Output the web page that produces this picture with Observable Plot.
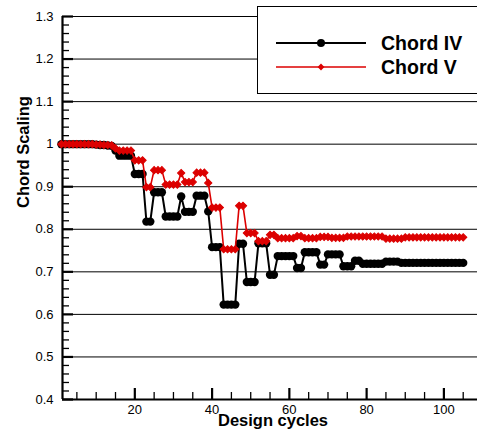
<!DOCTYPE html>
<html>
<head>
<meta charset="utf-8">
<script src="https://cdn.jsdelivr.net/npm/d3@7"></script>
<script src="https://cdn.jsdelivr.net/npm/@observablehq/plot@0.6"></script>
<style>
  html, body { margin: 0; padding: 0; background: white; }
  #chart { width: 477px; height: 439px; overflow: hidden; }
</style>
</head>
<body>
<div id="chart"></div>
<script>
const cycles = [
  1,2,3,4,5,6,7,8,9,10,11,12,13,14,15,16,17,18,19,20,
  21,22,23,24,25,26,27,28,29,30,31,32,33,34,35,36,37,38,39,40,
  41,42,43,44,45,46,47,48,49,50,51,52,53,54,55,56,57,58,59,60,
  61,62,63,64,65,66,67,68,69,70,71,72,73,74,75,76,77,78,79,80,
  81,82,83,84,85,86,87,88,89,90,91,92,93,94,95,96,97,98,99,100,
  101,102,103,104,105
];
const chordIV = [
  1.000,1.000,1.000,1.000,1.000,1.000,1.000,1.000,1.000,0.999,
  0.998,0.998,0.997,0.996,0.985,0.973,0.973,0.973,0.973,0.930,
  0.930,0.930,0.818,0.818,0.887,0.887,0.887,0.830,0.830,0.830,
  0.830,0.877,0.841,0.841,0.841,0.879,0.879,0.879,0.842,0.758,
  0.758,0.758,0.623,0.623,0.623,0.623,0.766,0.766,0.676,0.676,
  0.676,0.767,0.767,0.767,0.693,0.693,0.737,0.737,0.737,0.737,
  0.737,0.709,0.709,0.746,0.746,0.746,0.746,0.717,0.717,0.741,
  0.741,0.741,0.741,0.713,0.713,0.713,0.726,0.726,0.719,0.719,
  0.719,0.719,0.719,0.719,0.724,0.724,0.724,0.724,0.721,0.721,
  0.721,0.721,0.721,0.721,0.721,0.721,0.721,0.721,0.721,0.721,
  0.721,0.721,0.721,0.721,0.721
];
const chordV = [
  1.000,1.000,1.000,1.000,1.000,1.000,1.000,1.000,1.000,0.999,
  0.999,0.998,0.998,0.997,0.990,0.985,0.985,0.985,0.985,0.962,
  0.962,0.962,0.899,0.899,0.939,0.939,0.939,0.905,0.905,0.905,
  0.905,0.932,0.911,0.911,0.911,0.933,0.933,0.933,0.909,0.851,
  0.851,0.851,0.753,0.753,0.753,0.753,0.855,0.855,0.791,0.791,
  0.791,0.772,0.772,0.772,0.787,0.787,0.779,0.779,0.779,0.779,
  0.779,0.784,0.784,0.779,0.779,0.779,0.779,0.782,0.782,0.782,
  0.780,0.780,0.780,0.780,0.783,0.783,0.783,0.783,0.783,0.783,
  0.783,0.783,0.783,0.783,0.778,0.778,0.778,0.778,0.778,0.781,
  0.781,0.781,0.781,0.781,0.781,0.781,0.781,0.781,0.781,0.781,
  0.781,0.781,0.781,0.781,0.781
];
const seriesNames = ["Chord IV", "Chord V"];
const xTicksMajor = [20, 40, 60, 80, 100];
const xTickLabels = ["20", "40", "60", "80", "100"];
const xTicksMinor = [5, 10, 15, 25, 30, 35, 45, 50, 55, 65, 70, 75, 85, 90, 95, 105];
const yTicksMajor = [0.4, 0.5, 0.6, 0.7, 0.8, 0.9, 1.0, 1.1, 1.2, 1.3];
const yTickLabels = ["0.4", "0.5", "0.6", "0.7", "0.8", "0.9", "1", "1.1", "1.2", "1.3"];
const yGrid = [0.5, 0.6, 0.7, 0.8, 0.9, 1.0, 1.1, 1.2, 1.3];
const yTicksMinor = [
  0.42,0.44,0.46,0.48,0.52,0.54,0.56,0.58,0.62,0.64,0.66,0.68,
  0.72,0.74,0.76,0.78,0.82,0.84,0.86,0.88,0.92,0.94,0.96,0.98,
  1.02,1.04,1.06,1.08,1.12,1.14,1.16,1.18,1.22,1.24,1.26,1.28
];
const xDomain = [1.28, 108.7];
const yDomain = [0.4, 1.3];
const RED = "#dc0000";

const W = 477, H = 439, ML = 62, MR = 0, MT = 16, MB = 40;
const frameW = W - ML - MR, frameH = H - MT - MB;

const rowsIV = cycles.map((c, i) => ({cycle: c, value: chordIV[i]}));
const rowsV = cycles.map((c, i) => ({cycle: c, value: chordV[i]}));

const yLabelOf = v => { const i = yTicksMajor.findIndex(t => Math.abs(t - v) < 1e-9); return i >= 0 ? yTickLabels[i] : ""; };
const xLabelOf = v => { const i = xTicksMajor.indexOf(v); return i >= 0 ? xTickLabels[i] : ""; };

const chart = Plot.plot({
  width: W,
  height: H,
  marginLeft: ML,
  marginRight: MR,
  marginTop: MT,
  marginBottom: MB,
  style: {fontFamily: "'Liberation Sans', Arial, sans-serif", fontSize: "13px", color: "black", background: "white", overflow: "visible"},
  x: {domain: xDomain},
  y: {domain: yDomain},
  marks: [
    Plot.ruleY(yGrid, {stroke: "black", strokeWidth: 1}),
    Plot.tickY(yTicksMinor, {y: d => d, insetRight: frameW - 7, stroke: "black", strokeWidth: 1.3}),
    Plot.tickY(yTicksMajor, {y: d => d, insetRight: frameW - 11, stroke: "black", strokeWidth: 2.2}),
    Plot.tickX(xTicksMinor, {x: d => d, insetTop: frameH - 7, stroke: "black", strokeWidth: 1.3}),
    Plot.tickX(xTicksMajor, {x: d => d, insetTop: frameH - 11, stroke: "black", strokeWidth: 2.2}),
    Plot.axisY({ticks: yTicksMajor, tickSize: 0, tickPadding: 9, tickFormat: yLabelOf, label: null, fontSize: 13}),
    Plot.axisX({ticks: xTicksMajor, tickSize: 0, tickPadding: 5, tickFormat: xLabelOf, label: null, fontSize: 13}),
    Plot.ruleY([yDomain[0]], {stroke: "black", strokeWidth: 2.2}),
    Plot.ruleX([xDomain[0]], {stroke: "black", strokeWidth: 2.2}),
    Plot.line(rowsIV, {x: "cycle", y: "value", stroke: "black", strokeWidth: 2}),
    Plot.dot(rowsIV, {x: "cycle", y: "value", r: 4.2, fill: "black", stroke: "none"}),
    Plot.line(rowsV, {x: "cycle", y: "value", stroke: RED, strokeWidth: 1.6}),
    Plot.dot(rowsV, {x: "cycle", y: "value", symbol: "square", r: 2.9, rotate: 45, fill: RED, stroke: RED, strokeWidth: 1}),
    Plot.text(["Design cycles"], {frameAnchor: "bottom", dx: 3, dy: 26.5, fontWeight: "bold", fontSize: 16.5}),
    Plot.text(["Chord Scaling"], {frameAnchor: "left", dx: -39, rotate: -90, fontWeight: "bold", fontSize: 16.5})
  ]
});

document.getElementById("chart").appendChild(chart);

// Legend box (top right), drawn over the grid
const svg = d3.select(chart);
const lg = svg.append("g")
  .attr("font-family", "'Liberation Sans', Arial, sans-serif")
  .attr("text-anchor", "start");
lg.append("rect").attr("x", 257.5).attr("y", 6.5).attr("width", 240).attr("height", 87)
  .attr("fill", "white").attr("stroke", "black").attr("stroke-width", 1);
const legendItems = [
  {name: seriesNames[0], color: "black", width: 2, y: 43, marker: "circle"},
  {name: seriesNames[1], color: RED, width: 1.6, y: 67, marker: "diamond"}
];
legendItems.forEach(it => {
  lg.append("line").attr("x1", 276).attr("x2", 366).attr("y1", it.y).attr("y2", it.y)
    .attr("stroke", it.color).attr("stroke-width", it.width);
  if (it.marker === "circle") {
    lg.append("circle").attr("cx", 321).attr("cy", it.y).attr("r", 4).attr("fill", it.color);
  } else {
    lg.append("rect").attr("x", -2.4).attr("y", -2.4).attr("width", 4.8).attr("height", 4.8)
      .attr("fill", it.color).attr("transform", `translate(321,${it.y}) rotate(45)`);
  }
  lg.append("text").attr("x", 381).attr("y", it.y).attr("dy", "0.35em")
    .attr("text-anchor", "start")
    .attr("font-size", 19.5).attr("font-weight", "bold").attr("fill", "black").text(it.name);
});
</script>
</body>
</html>
